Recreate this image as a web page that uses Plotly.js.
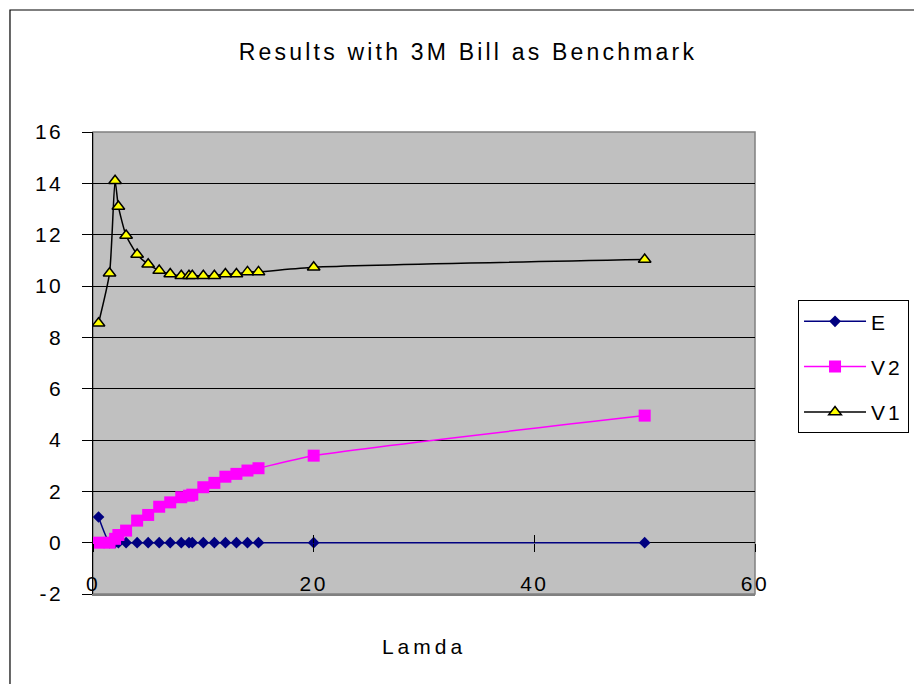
<!DOCTYPE html>
<html>
<head>
<meta charset="utf-8">
<script src="https://cdn.plot.ly/plotly-3.0.1.min.js"></script>
<style>
  html, body { margin: 0; padding: 0; background: #fff; }
  #chart { width: 914px; height: 684px; }
  .gtitle { letter-spacing: 3.2px; }
  .xtick text, .ytick text { letter-spacing: 2.5px; }
  .xtitle { letter-spacing: 4px; }
  .legendtext { letter-spacing: 3px; }
</style>
</head>
<body>
<div id="chart"></div>
<script>
// Lamda values (x)
const lamda = [0.5, 1.5, 2, 2.3, 3, 4, 5, 6, 7, 8, 8.7, 9, 10, 11, 12, 13, 14, 15, 20, 50];
// Series values
const E  = [1, 0, 0, 0, 0, 0, 0, 0, 0, 0, 0, 0, 0, 0, 0, 0, 0, 0, 0, 0];
const V2 = [0, 0, 0.15, 0.3, 0.47, 0.86, 1.08, 1.40, 1.57, 1.77, 1.83, 1.87, 2.16, 2.33, 2.57, 2.68, 2.81, 2.90, 3.39, 4.95];
const V1 = [8.55, 10.5, 14.1, 13.1, 11.97, 11.23, 10.85, 10.6, 10.47, 10.4, 10.4, 10.4, 10.4, 10.4, 10.47, 10.47, 10.55, 10.55, 10.73, 11.03];
const seriesNames = ['E', 'V2', 'V1'];
const titleText = 'Results with 3M Bill as Benchmark';
const xTitle = 'Lamda';
const xTicks = [0, 20, 40, 60];
const yTicks = [-2, 0, 2, 4, 6, 8, 10, 12, 14, 16];

const FONT = 'Liberation Sans, Arial, sans-serif';

const traces = [
  {
    x: lamda, y: E, name: seriesNames[0], type: 'scatter', mode: 'lines+markers',
    xaxis: 'x2',
    line: { color: '#000080', width: 1.5, shape: 'spline', smoothing: 0.6 },
    marker: { symbol: 'diamond', size: 9, color: '#000080' },
    legendgroup: 'g1'
  },
  {
    x: lamda, y: V2, name: seriesNames[1], type: 'scatter', mode: 'lines+markers',
    xaxis: 'x3',
    line: { color: '#FF00FF', width: 1.5, shape: 'spline', smoothing: 0.6 },
    marker: { symbol: 'square', size: 12, color: '#FF00FF' },
    legendgroup: 'g2'
  },
  {
    x: lamda, y: V1, name: seriesNames[2], type: 'scatter', mode: 'lines+markers',
    line: { color: '#000000', width: 1.5, shape: 'spline', smoothing: 0.6 },
    marker: { symbol: 'triangle-up', size: 11, color: '#FFFF00', line: { color: '#000', width: 1.5 } },
    legendgroup: 'g3'
  }
];

const zeroAxisCommon = {
  overlaying: 'x', anchor: 'free', position: 2 / 18,
  range: [0, 60], tickvals: xTicks, showticklabels: false,
  ticklen: 8, tickcolor: '#000', tickwidth: 1,
  showgrid: false, zeroline: false, showline: false, fixedrange: true
};

const layout = {
  width: 914, height: 684,
  margin: { l: 93, r: 159, t: 132, b: 90, autoexpand: false },
  paper_bgcolor: '#ffffff',
  plot_bgcolor: '#C0C0C0',
  font: { family: FONT, size: 21, color: '#000' },
  title: {
    text: titleText,
    font: { family: FONT, size: 23, color: '#000' },
    x: 0.512, xref: 'container', xanchor: 'center',
    y: 1 - 52 / 684, yref: 'container', yanchor: 'middle'
  },
  showlegend: true,
  legend: {
    x: 1.065, y: 0.636, xanchor: 'left', yanchor: 'top',
    bgcolor: '#ffffff', bordercolor: '#000', borderwidth: 1,
    font: { family: FONT, size: 21, color: '#000' },
    traceorder: 'grouped', tracegroupgap: 15, itemwidth: 62
  },
  xaxis: {
    range: [0, 60], tickvals: xTicks, ticktext: xTicks.map(String),
    showgrid: false, zeroline: false,
    showline: true, linecolor: '#808080', linewidth: 1.5,
    ticks: '', ticklabelposition: 'inside', ticklabeloverflow: 'allow',
    tickfont: { family: FONT, size: 21, color: '#000' },
    title: { text: xTitle, font: { family: FONT, size: 21, color: '#000' }, standoff: 45 },
    fixedrange: true
  },
  xaxis2: Object.assign({ ticks: 'outside' }, zeroAxisCommon),
  xaxis3: Object.assign({ ticks: 'inside' }, zeroAxisCommon),
  yaxis: {
    range: [-2, 16], tickvals: yTicks, ticktext: yTicks.map(String),
    showgrid: true, gridcolor: '#000', gridwidth: 1,
    zeroline: true, zerolinecolor: '#000', zerolinewidth: 1,
    showline: true, linecolor: '#000', linewidth: 1.5,
    ticks: 'outside', ticklen: 10, tickcolor: '#000', tickwidth: 1,
    ticklabelstandoff: 14,
    tickfont: { family: FONT, size: 21, color: '#000' },
    fixedrange: true
  },
  shapes: [
    { type: 'rect', xref: 'paper', yref: 'paper', x0: 0, x1: 1, y0: 0, y1: 1,
      line: { color: '#808080', width: 1.5 }, fillcolor: 'rgba(0,0,0,0)', layer: 'below' },
    { type: 'rect', xref: 'paper', yref: 'paper', x0: -0.1254, x1: 1.4, y0: -0.3, y1: 1.2641,
      line: { color: '#000', width: 1.2 }, fillcolor: 'rgba(0,0,0,0)', layer: 'below' }
  ]
};

Plotly.newPlot('chart', traces, layout, { displayModeBar: false, staticPlot: true });
</script>
</body>
</html>
